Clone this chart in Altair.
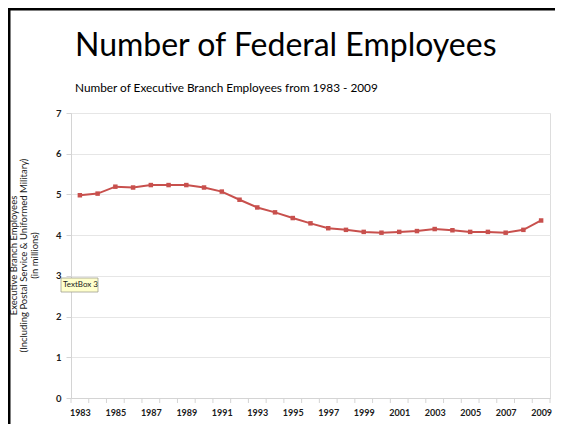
import altair as alt
import pandas as pd

years = list(range(1983, 2010))
employees = [4.98, 5.02, 5.19, 5.17, 5.23, 5.23, 5.23, 5.17, 5.07, 4.87,
             4.68, 4.56, 4.42, 4.29, 4.17, 4.13, 4.08, 4.06, 4.08, 4.10,
             4.15, 4.12, 4.08, 4.08, 4.06, 4.13, 4.36]
label_years = list(range(1983, 2010, 2))
y_ticks = [0, 1, 2, 3, 4, 5, 6, 7]
boundaries = [y - 0.5 for y in range(1983, 2011)]

title_text = "Number of Federal Employees"
subtitle_text = "Number of Executive Branch Employees from 1983 - 2009"
ytitle_lines = ["Executive Branch Employees",
                "(Including Postal Service & Uniformed Military)",
                "(in millions)"]

FONT = "Lato"
W, H = 479, 285
RED = "#C8504D"

df = pd.DataFrame({"year": years, "emp": employees})
bdf = pd.DataFrame({"b": boundaries})

xscale = alt.Scale(domain=[1982.5, 2009.5], nice=False, zero=False)
yscale = alt.Scale(domain=[0, 7], nice=False)

line = alt.Chart(df).mark_line(
    color=RED, strokeWidth=2,
    point=alt.OverlayMarkDef(color=RED, size=20, shape="square", filled=True),
).encode(
    x=alt.X("year:Q", scale=xscale,
            axis=alt.Axis(values=label_years, format="d", grid=False, ticks=False,
                          domainColor="#d4d4d4", labelFont=FONT, labelFontSize=9,
                          labelColor="#1a1a1a", labelPadding=10, title=None,
                          labelFontWeight="bold", labelOverlap=False)),
    y=alt.Y("emp:Q", scale=yscale,
            axis=alt.Axis(values=y_ticks, format="d", gridColor="#e6e6e6",
                          domainColor="#d4d4d4", tickColor="#d4d4d4", tickSize=5,
                          labelFont=FONT, labelFontSize=9.5, labelColor="#1a1a1a",
                          labelPadding=5, title=None, labelFontWeight="bold")),
)

ticks = alt.Chart(bdf).mark_rule(color="#d4d4d4", strokeWidth=1).encode(
    x=alt.X("b:Q", scale=xscale, axis=None),
    y=alt.value(H),
    y2=alt.value(H + 5),
)

title = alt.Chart(pd.DataFrame({"t": [title_text]})).mark_text(
    font=FONT, fontSize=32, align="left", baseline="alphabetic", color="#000000"
).encode(text="t:N", x=alt.value(4), y=alt.value(-57))

sub = alt.Chart(pd.DataFrame({"t": [subtitle_text]})).mark_text(
    font=FONT, fontSize=11.8, align="left", baseline="middle", color="#000000"
).encode(text="t:N", x=alt.value(4), y=alt.value(-25))

ylines = []
for t, xv in zip(ytitle_lines, [-57, -47, -36]):
    ylines.append(
        alt.Chart(pd.DataFrame({"t": [t]})).mark_text(
            font=FONT, fontSize=9.5, angle=270, align="center", baseline="middle",
            color="#1a1a1a"
        ).encode(text="t:N", x=alt.value(xv), y=alt.value(H / 2))
    )

# slide frame
frame_top = alt.Chart(pd.DataFrame({"a": [0]})).mark_rule(color="#000000", strokeWidth=3).encode(
    x=alt.value(-63), x2=alt.value(W + 6), y=alt.value(-104))
frame_left = alt.Chart(pd.DataFrame({"a": [0]})).mark_rule(color="#000000", strokeWidth=3).encode(
    x=alt.value(-62), y=alt.value(-105), y2=alt.value(H + 30))

# TextBox 3 artifact
tb_rect = alt.Chart(pd.DataFrame({"a": [0]})).mark_rect(
    fill="#FFFFCC", stroke="#a0a090", strokeWidth=0.8
).encode(x=alt.value(-10), x2=alt.value(27), y=alt.value(165), y2=alt.value(179))
tb_text = alt.Chart(pd.DataFrame({"t": ["TextBox 3"]})).mark_text(
    font=FONT, fontSize=8, align="left", baseline="middle", color="#222222"
).encode(text="t:N", x=alt.value(-8), y=alt.value(172))

chart = alt.layer(
    line, ticks, title, sub, *ylines, frame_top, frame_left, tb_rect, tb_text
).resolve_axis(x="independent").properties(
    width=W, height=H,
    autosize=alt.AutoSizeParams(type="none"),
    padding={"left": 63, "top": 105, "right": 5, "bottom": 26},
).configure_view(stroke=None).configure(background="white")

chart.save("out.html", embed_options={"renderer": "svg", "actions": False})
